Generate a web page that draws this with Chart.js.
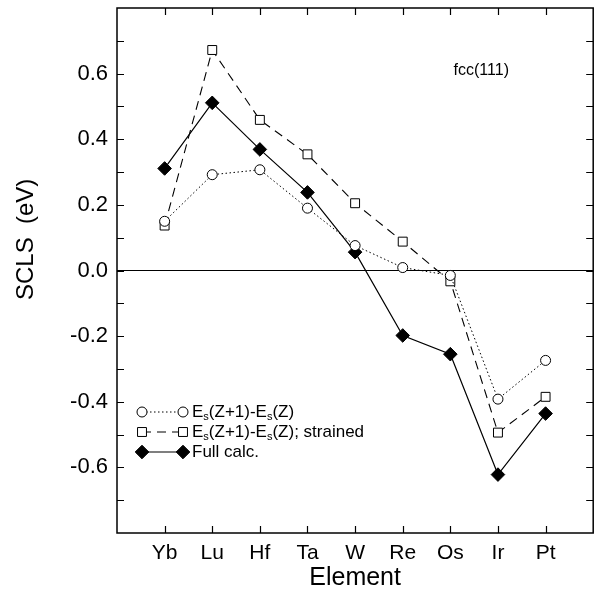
<!DOCTYPE html>
<html><head><meta charset="utf-8">
<script src="https://cdn.jsdelivr.net/npm/chart.js@4/dist/chart.umd.min.js"></script>
<style>html,body{margin:0;padding:0;background:#fff}canvas{display:block}</style>
</head><body>
<canvas id="c" width="601" height="595"></canvas>
<script>
// ---- data ----
const categories = ['Yb', 'Lu', 'Hf', 'Ta', 'W', 'Re', 'Os', 'Ir', 'Pt'];
const esValues = [0.15, 0.292, 0.307, 0.19, 0.076, 0.009, -0.015, -0.392, -0.274];
const strainedValues = [0.137, 0.672, 0.459, 0.354, 0.205, 0.088, -0.033, -0.494, -0.385];
const fullValues = [0.311, 0.511, 0.369, 0.238, 0.056, -0.198, -0.255, -0.622, -0.436];
const yTickLabels = ['0.6', '0.4', '0.2', '0.0', '-0.2', '-0.4', '-0.6'];
const seriesLabels = ['E_s(Z+1)-E_s(Z)', 'E_s(Z+1)-E_s(Z); strained', 'Full calc.'];
const xTitle = 'Element';
const yTitle = 'SCLS  (eV)';
const panelLabel = 'fcc(111)';

const FONT = "'Liberation Sans', Arial, Helvetica, sans-serif";
const toPoints = vals => vals.map((v, i) => ({x: i + 1, y: v}));

// inward ticks on all four sides + frame + labels
const frameTicks = {
  id: 'frameTicks',
  afterDraw(chart) {
    const {ctx, chartArea: a, scales: {x, y}} = chart;
    ctx.save();
    ctx.strokeStyle = '#000';
    ctx.lineWidth = 1.2;
    ctx.beginPath();
    x.ticks.forEach(t => {
      if (t.value < 1 || t.value > categories.length) return;
      const px = Math.round(x.getPixelForValue(t.value)) + 0.5;
      ctx.moveTo(px, a.bottom); ctx.lineTo(px, a.bottom - 7);
      ctx.moveTo(px, a.top); ctx.lineTo(px, a.top + 7);
    });
    y.ticks.forEach(t => {
      if (t.value <= y.min + 1e-9 || t.value >= y.max - 1e-9) return;
      const py = Math.round(y.getPixelForValue(t.value)) + 0.5;
      ctx.moveTo(a.left, py); ctx.lineTo(a.left + 7, py);
      ctx.moveTo(a.right, py); ctx.lineTo(a.right - 7, py);
    });
    ctx.stroke();
    ctx.lineWidth = 1.5;
    ctx.strokeRect(a.left, a.top, a.right - a.left, a.bottom - a.top);
    // panel label
    ctx.fillStyle = '#000';
    ctx.font = '16px ' + FONT;
    ctx.textAlign = 'center';
    ctx.textBaseline = 'middle';
    ctx.fillText(panelLabel, x.getPixelForValue(7.65), y.getPixelForValue(0.61));
    // y axis title
    ctx.save();
    ctx.translate(26, y.getPixelForValue(0.095));
    ctx.rotate(-Math.PI / 2);
    ctx.font = '24px ' + FONT;
    ctx.fillText(yTitle, 0, 0);
    ctx.restore();
    ctx.restore();
  }
};

// text with "_x" subscripts
function drawRich(ctx, text, x, y, size) {
  const parts = text.split(/_(.)/);
  let cx = x;
  parts.forEach((p, i) => {
    if (!p) return;
    const sub = i % 2 === 1;
    ctx.font = (sub ? Math.round(size * 0.62) : size) + 'px ' + FONT;
    ctx.fillText(p, cx, sub ? y + size * 0.28 : y);
    cx += ctx.measureText(p).width;
  });
}

// legend inside plot, lower-left
const insideLegend = {
  id: 'insideLegend',
  afterDraw(chart) {
    const {ctx} = chart;
    const x0 = 142, x1 = 183, tx = 192, rows = [412, 432, 452];
    ctx.save();
    chart.data.datasets.forEach((ds, i) => {
      const yy = rows[i];
      ctx.strokeStyle = '#000';
      ctx.lineWidth = ds.borderWidth;
      ctx.setLineDash(ds.borderDash || []);
      ctx.beginPath(); ctx.moveTo(x0, yy); ctx.lineTo(x1, yy); ctx.stroke();
      ctx.setLineDash([]);
      const opts = {pointStyle: ds.pointStyle, radius: ds.pointRadius, borderWidth: ds.pointBorderWidth, rotation: 0};
      ctx.fillStyle = ds.pointBackgroundColor;
      ctx.strokeStyle = '#000';
      ctx.lineWidth = ds.pointBorderWidth;
      Chart.helpers.drawPoint(ctx, opts, x0, yy);
      ctx.fillStyle = ds.pointBackgroundColor;
      ctx.strokeStyle = '#000';
      Chart.helpers.drawPoint(ctx, opts, x1, yy);
      ctx.fillStyle = '#000';
      ctx.textAlign = 'left';
      ctx.textBaseline = 'middle';
      drawRich(ctx, ds.label, tx, yy, 17);
    });
    ctx.restore();
  }
};

new Chart(document.getElementById('c'), {
  type: 'line',
  data: {
    datasets: [
      {label: seriesLabels[0], data: toPoints(esValues), borderColor: '#000', borderWidth: 1,
       borderDash: [1.5, 2.5], pointStyle: 'circle', pointRadius: 5, pointBorderWidth: 1,
       pointBorderColor: '#000', pointBackgroundColor: '#fff', fill: false, tension: 0},
      {label: seriesLabels[1], data: toPoints(strainedValues), borderColor: '#000', borderWidth: 1.1,
       borderDash: [9, 6], pointStyle: 'rect', pointRadius: 6.3, pointBorderWidth: 1,
       pointBorderColor: '#000', pointBackgroundColor: '#fff', fill: false, tension: 0},
      {label: seriesLabels[2], data: toPoints(fullValues), borderColor: '#000', borderWidth: 1.2,
       pointStyle: 'rectRot', pointRadius: 6.8, pointBorderWidth: 1,
       pointBorderColor: '#000', pointBackgroundColor: '#000', fill: false, tension: 0}
    ]
  },
  options: {
    responsive: false,
    animation: false,
    devicePixelRatio: 1,
    layout: {padding: {left: 0, right: 7, top: 8, bottom: 0}},
    plugins: {legend: {display: false}, tooltip: {enabled: false}},
    scales: {
      x: {
        type: 'linear', min: 0, max: 10,
        afterFit(s) { s.height = 62; s.paddingLeft = 0; s.paddingRight = 0; },
        grid: {display: false, drawTicks: false},
        border: {display: false},
        ticks: {stepSize: 1, padding: 8, color: '#000', font: {family: FONT, size: 21},
          callback: v => categories[v - 1] || ''},
        title: {display: true, text: xTitle, color: '#000', font: {family: FONT, size: 25},
          padding: {top: 0, bottom: 2}}
      },
      y: {
        type: 'linear', min: -0.8, max: 0.8,
        afterFit(s) { s.width = 117; s.paddingTop = 0; s.paddingBottom = 0; },
        grid: {drawTicks: false, lineWidth: 1,
          color: c => Math.abs(c.tick.value) < 1e-9 ? '#000' : 'rgba(0,0,0,0)'},
        border: {display: false},
        ticks: {stepSize: 0.1, padding: 9, color: '#000', font: {family: FONT, size: 22},
          callback: v => { const s = (Math.abs(v) < 1e-9 ? 0 : v).toFixed(1); return yTickLabels.includes(s) ? s : ''; }},
        title: {display: false, text: yTitle}
      }
    }
  },
  plugins: [frameTicks, insideLegend]
});
</script>
</body></html>
